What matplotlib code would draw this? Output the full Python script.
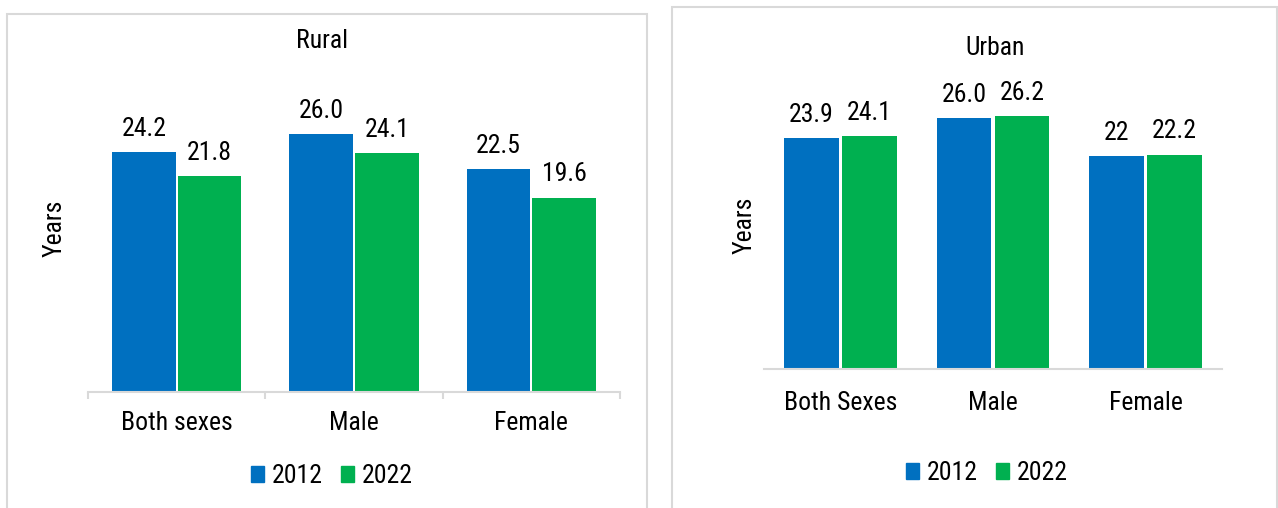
import numpy as np
import matplotlib
matplotlib.use("Agg")
import matplotlib.pyplot as plt
from matplotlib.patches import Rectangle, Patch

# Data
years = ["2012", "2022"]
rural_categories = ["Both sexes", "Male", "Female"]
rural_2012 = [24.2, 26.0, 22.5]
rural_2022 = [21.8, 24.1, 19.6]
rural_labels_2012 = ["24.2", "26.0", "22.5"]
rural_labels_2022 = ["21.8", "24.1", "19.6"]

urban_categories = ["Both Sexes", "Male", "Female"]
urban_2012 = [23.9, 26.0, 22.0]
urban_2022 = [24.1, 26.2, 22.2]
urban_labels_2012 = ["23.9", "26.0", "22"]
urban_labels_2022 = ["24.1", "26.2", "22.2"]

# Style
BLUE = "#0070C0"
GREEN = "#00B050"
GREY = "#D9D9D9"
FONT = ["Roboto Condensed", "Liberation Sans", "DejaVu Sans"]
plt.rcParams["font.family"] = FONT
FS = 18.5

W, H = 1278, 508
fig = plt.figure(figsize=(W / 100, H / 100), dpi=100)


def px_axes(x0, x1, base_y, height):
    # pixel box (from top-left) -> figure fraction
    return fig.add_axes([x0 / W, (H - base_y) / H, (x1 - x0) / W, height / H])


def draw_panel(ax, cats, v1, v2, l1, l2, off, with_ticks, pad):
    x = np.arange(len(cats))
    b1 = ax.bar(x - off, v1, width=0.36, color=BLUE, linewidth=0)
    b2 = ax.bar(x + off, v2, width=0.36, color=GREEN, linewidth=0)
    for bars, labs in ((b1, l1), (b2, l2)):
        for b, t in zip(bars, labs):
            ax.annotate(t, (b.get_x() + b.get_width() / 2, b.get_height()),
                        xytext=(0, 8), textcoords="offset points",
                        ha="center", va="bottom", fontsize=FS)
    ax.set_xlim(-0.5, len(cats) - 0.5)
    ax.set_ylim(0, 30)
    for s in ("top", "right", "left"):
        ax.spines[s].set_visible(False)
    ax.spines["bottom"].set_color(GREY)
    ax.spines["bottom"].set_linewidth(1.5)
    ax.set_yticks([])
    ax.set_xticks(x)
    ax.set_xticklabels(cats, fontsize=FS)
    ax.tick_params(axis="x", which="major", length=0, pad=pad)
    if with_ticks:
        ax.set_xticks(np.arange(len(cats) + 1) - 0.5, minor=True)
        ax.tick_params(axis="x", which="minor", length=5, width=1.5, color=GREY)


# Panel borders
fig.patches.append(Rectangle((7 / W, -0.05), (647 - 7) / W, 1.05 - 14 / H,
                             transform=fig.transFigure, fill=False,
                             edgecolor=GREY, linewidth=1.5))
fig.patches.append(Rectangle((672 / W, -0.05), (1277 - 672) / W, 1.05 - 7 / H,
                             transform=fig.transFigure, fill=False,
                             edgecolor=GREY, linewidth=1.5))

# Rural
ax1 = px_axes(88, 620, 392, 30 * 9.92)
draw_panel(ax1, rural_categories, rural_2012, rural_2022,
           rural_labels_2012, rural_labels_2022, 0.185, True, 14)
fig.text(322 / W, 1 - 48 / H, "Rural", ha="center", va="baseline", fontsize=FS)
fig.text(55 / W, 1 - 228 / H, "Years", ha="center", va="center",
         rotation=90, fontsize=FS)

# Urban
ax2 = px_axes(764, 1222, 369, 30 * 9.66)
draw_panel(ax2, urban_categories, urban_2012, urban_2022,
           urban_labels_2012, urban_labels_2022, 0.19, False, 16)
fig.text(995 / W, 1 - 55 / H, "Urban", ha="center", va="baseline", fontsize=FS)
fig.text(745 / W, 1 - 225 / H, "Years", ha="center", va="center",
         rotation=90, fontsize=FS)

# Legends
handles = [Patch(color=BLUE, label=years[0]), Patch(color=GREEN, label=years[1])]
for cx, cy in ((332, 476), (987, 473)):
    fig.legend(handles=handles, loc="center", bbox_to_anchor=(cx / W, 1 - cy / H),
               ncol=2, frameon=False, fontsize=FS, handlelength=0.5,
               handleheight=0.6, handletextpad=0.3, columnspacing=0.7)

fig.savefig("out.png", dpi=100)
